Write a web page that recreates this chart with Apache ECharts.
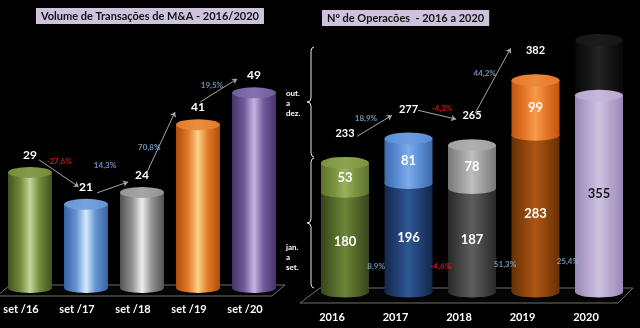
<!DOCTYPE html>
<html>
<head>
<meta charset="utf-8">
<script src="https://cdn.jsdelivr.net/npm/echarts@6/dist/echarts.min.js"></script>
<style>
  html, body { margin: 0; padding: 0; background: #000; }
  #c { width: 640px; height: 328px; }
</style>
</head>
<body>
<div id="c"></div>
<script>
// Volume de transações de M&A (jan.–set.)
const volCats = ['set /16', 'set /17', 'set /18', 'set /19', 'set /20'];
const volValues = [29, 21, 24, 41, 49];
const volChange = ['-27,6%', '14,3%', '70,8%', '19,5%'];

// Nº de operações por ano
const opCats = ['2016', '2017', '2018', '2019', '2020'];
const opJanSet = [180, 196, 187, 283, 355];
const opOutDez = [53, 81, 78, 99, null];
const opPending2020 = 100;          // dark, unlabelled block still open for 2020
const opTotals = [233, 277, 265, 382, null];
const opTotalChange = ['18,9%', '-4,3%', '44,2%'];
const opJanSetChange = ['8,9%', '-4,6%', '51,3%', '25,4%'];

const FONT = 'Lato, "Open Sans", sans-serif';
const BLUE_TXT = '#8db4e2';
const RED_TXT = '#ff1a1a';

// cylinder palettes: edge / mid / light (highlight) / cap
const volPal = [
  { edge: '#42521c', mid: '#728b3a', light: '#c4d59a', cap: '#869c4c' },
  { edge: '#3762a2', mid: '#6594d3', light: '#d6eaff', cap: '#76a4de' },
  { edge: '#525252', mid: '#939393', light: '#ededed', cap: '#a6a6a6' },
  { edge: '#ae4c0a', mid: '#e27a28', light: '#fcd28a', cap: '#ec8e42' },
  { edge: '#43346c', mid: '#705b99', light: '#c7b4e6', cap: '#8772af' }
];
const opLowPal = [
  { edge: '#37441a', mid: '#56692a', light: '#6c8537', cap: '#6c8537' },
  { edge: '#132646', mid: '#224277', light: '#2e5892', cap: '#2e5892' },
  { edge: '#282828', mid: '#474747', light: '#5e5e5e', cap: '#5e5e5e' },
  { edge: '#663006', mid: '#91450c', light: '#ab5615', cap: '#ab5615' },
  { edge: '#9888b4', mid: '#b7a7d0', light: '#cfc3e2', cap: '#c6b9dc' }
];
const opTopPal = [
  { edge: '#5c722e', mid: '#7b933f', light: '#9ab05e', cap: '#8ca44e' },
  { edge: '#3c6bad', mid: '#5a8ed6', light: '#7cabe8', cap: '#6b9de0' },
  { edge: '#777777', mid: '#9f9f9f', light: '#bdbdbd', cap: '#b0b0b0' },
  { edge: '#bd560e', mid: '#e6772a', light: '#f69a4c', cap: '#ee8a3c' },
  { edge: '#070707', mid: '#161616', light: '#242424', cap: '#1b1b1b' }
];

function cyl(p) {
  return new echarts.graphic.LinearGradient(0, 0, 1, 0, [
    { offset: 0, color: p.edge }, { offset: 0.28, color: p.mid },
    { offset: 0.5, color: p.light }, { offset: 0.72, color: p.mid },
    { offset: 1, color: p.edge }
  ]);
}
function capFill(p) {
  return new echarts.graphic.LinearGradient(0, 0, 1, 0, [
    { offset: 0, color: p.mid }, { offset: 0.5, color: p.cap }, { offset: 1, color: p.mid }
  ]);
}

// annotation placement, in axis units (x: category index, y: axis value)
const volArrowAt = [
  [[0.16, 32.2], [0.87, 25.4]],
  [[1.20, 23.9], [1.75, 26.6]],
  [[2.09, 29.1], [2.59, 44.2]],
  [[3.04, 46.7], [3.70, 52.5]]
];
const volChangeAt = [[0.52, 31.9], [1.34, 30.7], [2.13, 35.4], [3.25, 50.8]];
const opArrowAt = [
  [[0.19, 281], [0.74, 319]],
  [[1.15, 328], [1.75, 312]],
  [[2.05, 323], [2.61, 440]]
];
const opTotalChangeAt = [[0.33, 314], [1.53, 331], [2.20, 395]];
const opJanSetChangeAt = [[0.49, 47], [1.51, 47], [2.52, 50], [3.51, 56]];

const pctColor = s => (s.charAt(0) === '-' ? RED_TXT : BLUE_TXT);
const pctLabels = (texts, at) => texts.map((t, i) => ({
  value: at[i], name: t, label: { color: pctColor(t) }
}));

const W1 = 44, W2 = 48;
const opCum = opJanSet.map((v, i) => v + (opOutDez[i] == null ? opPending2020 : opOutDez[i]));

// curly brace "{" drawn as a polyline between y0 and y1 at x
function brace(x, y0, y1) {
  const m = (y0 + y1) / 2;
  return [[x + 3, y0], [x + 1, y0 + 1], [x, y0 + 4], [x, m - 4], [x - 1, m - 1], [x - 4, m],
          [x - 1, m + 1], [x, m + 4], [x, y1 - 4], [x + 1, y1 - 1], [x + 3, y1]];
}

const chart = echarts.init(document.getElementById('c'), null, { renderer: 'canvas' });

const catAxisLabel = (pad, margin) => ({
  color: '#ffffff', fontFamily: FONT, fontWeight: 'bold', fontSize: 11,
  margin: margin, padding: [0, pad, 0, 0]
});

chart.setOption({
  backgroundColor: '#000000',
  animation: false,
  title: [
    {
      text: 'Volume de Transações de M&A - 2016/2020', left: 36, top: 8,
      backgroundColor: '#cdc3dd', padding: [3, 5, 2, 5],
      textStyle: { color: '#141414', fontFamily: FONT, fontSize: 11, fontWeight: 'bold' }
    },
    {
      text: 'Nº de Operacões  - 2016 a 2020', left: 322, top: 10,
      backgroundColor: '#cdc3dd', padding: [3, 5, 2, 5],
      textStyle: { color: '#141414', fontFamily: FONT, fontSize: 11, fontWeight: 'bold' }
    }
  ],
  grid: [
    { left: 2, width: 280, top: 49, bottom: 40 },
    { left: 313.25, width: 317.5, top: 15, bottom: 36 }
  ],
  xAxis: [
    { type: 'category', gridIndex: 0, data: volCats, axisLine: { show: false },
      axisTick: { show: false }, axisLabel: catAxisLabel(18, 16) },
    { type: 'value', gridIndex: 0, min: -0.5, max: 4.5, show: false },
    { type: 'category', gridIndex: 1, data: opCats, axisLine: { show: false },
      axisTick: { show: false }, axisLabel: catAxisLabel(26, 20) },
    { type: 'value', gridIndex: 1, min: -0.5, max: 4.5, show: false }
  ],
  yAxis: [
    { type: 'value', gridIndex: 0, min: 0, max: 60, show: false, splitLine: { show: false } },
    { type: 'value', gridIndex: 1, min: 0, max: 500, show: false, splitLine: { show: false } }
  ],
  graphic: [
    // floors
    { type: 'polygon', z: 0, shape: { points: [[10, 285], [285, 285], [272, 296], [-3, 296]] },
      style: { fill: '#050505', stroke: '#6f6f6f', lineWidth: 1 } },
    { type: 'polygon', z: 0, shape: { points: [[320, 288], [633, 288], [618, 303], [300, 303]] },
      style: { fill: '#050505', stroke: '#6f6f6f', lineWidth: 1 } },
    // braces
    { type: 'polyline', z: 5, shape: { points: brace(311, 47, 157) },
      style: { fill: null, stroke: '#e6e6e6', lineWidth: 1 } },
    { type: 'polyline', z: 5, shape: { points: brace(311, 158, 288) },
      style: { fill: null, stroke: '#e6e6e6', lineWidth: 1 } },
    { type: 'text', z: 5, left: 286, top: 88,
      style: { text: 'out.\na\ndez.', fill: '#ffffff', font: 'bold 8px ' + FONT, align: 'center', lineHeight: 10 } },
    { type: 'text', z: 5, left: 286, top: 242,
      style: { text: 'jan.\na\nset.', fill: '#ffffff', font: 'bold 8px ' + FONT, align: 'center', lineHeight: 10 } }
  ],
  series: [
    // ---- Volume de transações ----
    { type: 'pictorialBar', xAxisIndex: 0, yAxisIndex: 0, z: 2, barWidth: W1,
      symbol: 'circle', symbolSize: [W1, 10], symbolPosition: 'start', symbolOffset: [0, '50%'],
      data: volValues.map((v, i) => ({ value: v, itemStyle: { color: cyl(volPal[i]) } })) },
    { type: 'bar', xAxisIndex: 0, yAxisIndex: 0, z: 3, barWidth: W1,
      data: volValues.map((v, i) => ({ value: v, itemStyle: { color: cyl(volPal[i]) } })) },
    { type: 'pictorialBar', xAxisIndex: 0, yAxisIndex: 0, z: 4, barWidth: W1,
      symbol: 'circle', symbolSize: [W1, 11], symbolPosition: 'end', symbolOffset: [0, '-50%'],
      label: { show: true, position: 'top', distance: 6, color: '#ffffff',
        fontFamily: FONT, fontWeight: 'bold', fontSize: 12 },
      data: volValues.map((v, i) => ({ value: v, itemStyle: { color: capFill(volPal[i]) } })) },
    { type: 'lines', coordinateSystem: 'cartesian2d', xAxisIndex: 1, yAxisIndex: 0, z: 6,
      symbol: ['none', 'arrow'], symbolSize: 5,
      lineStyle: { color: '#a6a6a6', width: 1, opacity: 1 },
      data: volArrowAt.map(c => ({ coords: c })) },
    { type: 'scatter', xAxisIndex: 1, yAxisIndex: 0, z: 6, symbolSize: 0,
      label: { show: true, position: 'inside', formatter: '{b}', fontFamily: FONT,
        fontWeight: 'bold', fontSize: 8 },
      data: pctLabels(volChange, volChangeAt) },

    // ---- Nº de operações ----
    { type: 'pictorialBar', xAxisIndex: 2, yAxisIndex: 1, z: 2, barWidth: W2,
      symbol: 'circle', symbolSize: [W2, 11], symbolPosition: 'start', symbolOffset: [0, '50%'],
      data: opJanSet.map((v, i) => ({ value: v, itemStyle: { color: cyl(opLowPal[i]) } })) },
    { type: 'bar', xAxisIndex: 2, yAxisIndex: 1, z: 3, barWidth: W2, stack: 'op',
      label: { show: true, position: 'inside', fontFamily: FONT, fontWeight: 'bold', fontSize: 13 },
      data: opJanSet.map((v, i) => ({ value: v, itemStyle: { color: cyl(opLowPal[i]) },
        label: { color: i === 4 ? '#1a1a1a' : '#ffffff' } })) },
    { type: 'bar', xAxisIndex: 2, yAxisIndex: 1, z: 3, barWidth: W2, stack: 'op',
      label: { show: true, position: 'inside', color: '#ffffff', fontFamily: FONT,
        fontWeight: 'bold', fontSize: 13 },
      data: opOutDez.map((v, i) => v == null
        ? { value: opPending2020, itemStyle: { color: cyl(opTopPal[i]) }, label: { show: false } }
        : { value: v, itemStyle: { color: cyl(opTopPal[i]) } }) },
    // boundary between the two stacked blocks
    { type: 'pictorialBar', xAxisIndex: 2, yAxisIndex: 1, z: 4, barWidth: W2,
      symbol: 'circle', symbolSize: [W2, 11], symbolPosition: 'end', symbolOffset: [0, '-50%'],
      data: opJanSet.map((v, i) => ({ value: v, itemStyle: { color: i === 4
        ? capFill(opLowPal[i]) : cyl(opTopPal[i]) } })) },
    // top caps carrying the yearly totals
    { type: 'pictorialBar', xAxisIndex: 2, yAxisIndex: 1, z: 4, barWidth: W2,
      symbol: 'circle', symbolSize: [W2, 12], symbolPosition: 'end', symbolOffset: [0, '-50%'],
      label: { show: true, position: 'top', distance: 18, color: '#ffffff',
        fontFamily: FONT, fontWeight: 'bold', fontSize: 11,
        formatter: p => (opTotals[p.dataIndex] == null ? '' : String(opTotals[p.dataIndex])) },
      data: opCum.map((v, i) => ({ value: v, itemStyle: { color: capFill(opTopPal[i]) } })) },
    { type: 'lines', coordinateSystem: 'cartesian2d', xAxisIndex: 3, yAxisIndex: 1, z: 6,
      symbol: ['none', 'arrow'], symbolSize: 5,
      lineStyle: { color: '#a6a6a6', width: 1, opacity: 1 },
      data: opArrowAt.map(c => ({ coords: c })) },
    { type: 'scatter', xAxisIndex: 3, yAxisIndex: 1, z: 6, symbolSize: 0,
      label: { show: true, position: 'inside', formatter: '{b}', fontFamily: FONT,
        fontWeight: 'bold', fontSize: 8 },
      data: pctLabels(opTotalChange, opTotalChangeAt).concat(pctLabels(opJanSetChange, opJanSetChangeAt)) }
  ]
});
</script>
</body>
</html>
